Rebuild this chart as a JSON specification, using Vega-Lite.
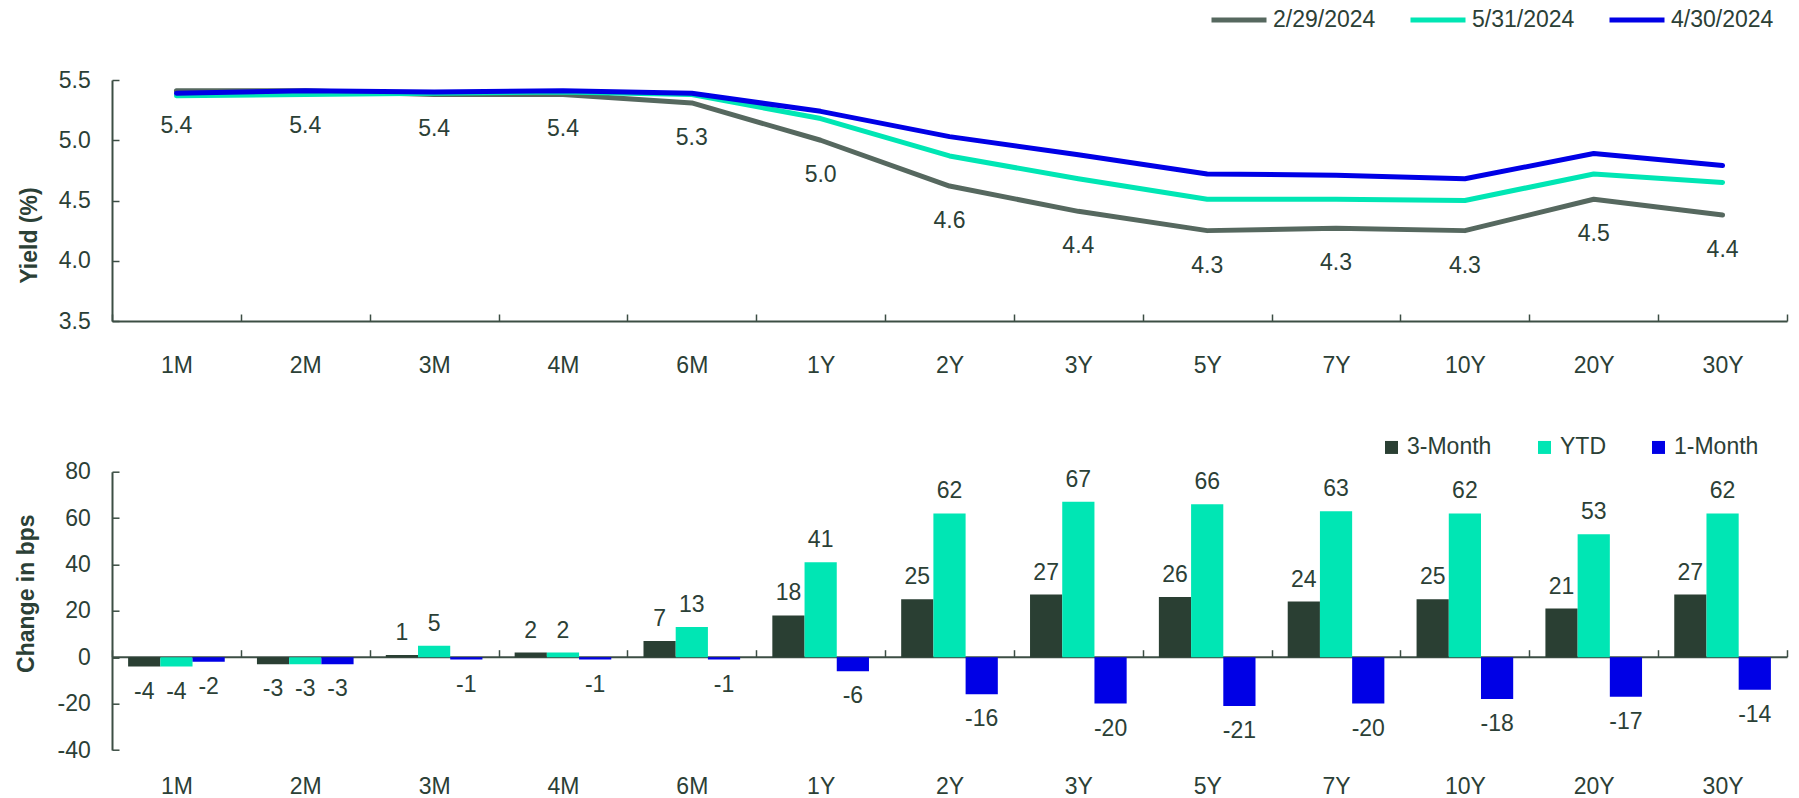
{
  "$schema": "https://vega.github.io/schema/vega-lite/v6.json",
  "padding": {"left": 14, "top": 8, "right": 5, "bottom": 5},
  "background": "white",
  "config": {
    "view": {"stroke": null},
    "font": "Liberation Sans",
    "axis": {"labelFont": "Liberation Sans", "labelFontSize": 23, "labelColor": "#2B4036", "titleFont": "Liberation Sans", "titleFontSize": 23, "titleFontWeight": "bold", "titleColor": "#2B4036", "domainColor": "#3C4E44", "domainWidth": 2, "tickColor": "#3C4E44", "tickWidth": 1.5, "grid": false},
    "legend": {"labelFont": "Liberation Sans", "labelFontSize": 23, "labelColor": "#2B4036", "padding": 0}
  },
  "datasets": {
    "yields": [
      {"tenor": "1M", "date": "2/29/2024", "yield": 5.41},
      {"tenor": "2M", "date": "2/29/2024", "yield": 5.41},
      {"tenor": "3M", "date": "2/29/2024", "yield": 5.38},
      {"tenor": "4M", "date": "2/29/2024", "yield": 5.38},
      {"tenor": "6M", "date": "2/29/2024", "yield": 5.31},
      {"tenor": "1Y", "date": "2/29/2024", "yield": 5.00},
      {"tenor": "2Y", "date": "2/29/2024", "yield": 4.62},
      {"tenor": "3Y", "date": "2/29/2024", "yield": 4.41},
      {"tenor": "5Y", "date": "2/29/2024", "yield": 4.25},
      {"tenor": "7Y", "date": "2/29/2024", "yield": 4.27},
      {"tenor": "10Y", "date": "2/29/2024", "yield": 4.25},
      {"tenor": "20Y", "date": "2/29/2024", "yield": 4.51},
      {"tenor": "30Y", "date": "2/29/2024", "yield": 4.38},
      {"tenor": "1M", "date": "5/31/2024", "yield": 5.37},
      {"tenor": "2M", "date": "5/31/2024", "yield": 5.38},
      {"tenor": "3M", "date": "5/31/2024", "yield": 5.39},
      {"tenor": "4M", "date": "5/31/2024", "yield": 5.40},
      {"tenor": "6M", "date": "5/31/2024", "yield": 5.38},
      {"tenor": "1Y", "date": "5/31/2024", "yield": 5.18},
      {"tenor": "2Y", "date": "5/31/2024", "yield": 4.87},
      {"tenor": "3Y", "date": "5/31/2024", "yield": 4.68},
      {"tenor": "5Y", "date": "5/31/2024", "yield": 4.51},
      {"tenor": "7Y", "date": "5/31/2024", "yield": 4.51},
      {"tenor": "10Y", "date": "5/31/2024", "yield": 4.50},
      {"tenor": "20Y", "date": "5/31/2024", "yield": 4.72},
      {"tenor": "30Y", "date": "5/31/2024", "yield": 4.65},
      {"tenor": "1M", "date": "4/30/2024", "yield": 5.39},
      {"tenor": "2M", "date": "4/30/2024", "yield": 5.41},
      {"tenor": "3M", "date": "4/30/2024", "yield": 5.40},
      {"tenor": "4M", "date": "4/30/2024", "yield": 5.41},
      {"tenor": "6M", "date": "4/30/2024", "yield": 5.39},
      {"tenor": "1Y", "date": "4/30/2024", "yield": 5.24},
      {"tenor": "2Y", "date": "4/30/2024", "yield": 5.03},
      {"tenor": "3Y", "date": "4/30/2024", "yield": 4.88},
      {"tenor": "5Y", "date": "4/30/2024", "yield": 4.72},
      {"tenor": "7Y", "date": "4/30/2024", "yield": 4.71},
      {"tenor": "10Y", "date": "4/30/2024", "yield": 4.68},
      {"tenor": "20Y", "date": "4/30/2024", "yield": 4.89},
      {"tenor": "30Y", "date": "4/30/2024", "yield": 4.79}
    ],
    "changes": [
      {"tenor": "1M", "period": "3-Month", "change": -4},
      {"tenor": "2M", "period": "3-Month", "change": -3},
      {"tenor": "3M", "period": "3-Month", "change": 1},
      {"tenor": "4M", "period": "3-Month", "change": 2},
      {"tenor": "6M", "period": "3-Month", "change": 7},
      {"tenor": "1Y", "period": "3-Month", "change": 18},
      {"tenor": "2Y", "period": "3-Month", "change": 25},
      {"tenor": "3Y", "period": "3-Month", "change": 27},
      {"tenor": "5Y", "period": "3-Month", "change": 26},
      {"tenor": "7Y", "period": "3-Month", "change": 24},
      {"tenor": "10Y", "period": "3-Month", "change": 25},
      {"tenor": "20Y", "period": "3-Month", "change": 21},
      {"tenor": "30Y", "period": "3-Month", "change": 27},
      {"tenor": "1M", "period": "YTD", "change": -4},
      {"tenor": "2M", "period": "YTD", "change": -3},
      {"tenor": "3M", "period": "YTD", "change": 5},
      {"tenor": "4M", "period": "YTD", "change": 2},
      {"tenor": "6M", "period": "YTD", "change": 13},
      {"tenor": "1Y", "period": "YTD", "change": 41},
      {"tenor": "2Y", "period": "YTD", "change": 62},
      {"tenor": "3Y", "period": "YTD", "change": 67},
      {"tenor": "5Y", "period": "YTD", "change": 66},
      {"tenor": "7Y", "period": "YTD", "change": 63},
      {"tenor": "10Y", "period": "YTD", "change": 62},
      {"tenor": "20Y", "period": "YTD", "change": 53},
      {"tenor": "30Y", "period": "YTD", "change": 62},
      {"tenor": "1M", "period": "1-Month", "change": -2},
      {"tenor": "2M", "period": "1-Month", "change": -3},
      {"tenor": "3M", "period": "1-Month", "change": -1},
      {"tenor": "4M", "period": "1-Month", "change": -1},
      {"tenor": "6M", "period": "1-Month", "change": -1},
      {"tenor": "1Y", "period": "1-Month", "change": -6},
      {"tenor": "2Y", "period": "1-Month", "change": -16},
      {"tenor": "3Y", "period": "1-Month", "change": -20},
      {"tenor": "5Y", "period": "1-Month", "change": -21},
      {"tenor": "7Y", "period": "1-Month", "change": -20},
      {"tenor": "10Y", "period": "1-Month", "change": -18},
      {"tenor": "20Y", "period": "1-Month", "change": -17},
      {"tenor": "30Y", "period": "1-Month", "change": -14}
    ]
  },
  "spacing": 150.7,
  "bounds": "flush",
  "resolve": {"scale": {"color": "independent", "x": "independent", "y": "independent"}, "legend": {"color": "independent"}},
  "vconcat": [
    {
      "width": 1675,
      "height": 241,
      "data": {"name": "yields"},
      "encoding": {
        "x": {"field": "tenor", "type": "nominal", "bandPosition": 0.5,
          "scale": {"type": "band", "domain": ["1M","2M","3M","4M","6M","1Y","2Y","3Y","5Y","7Y","10Y","20Y","30Y"], "paddingInner": 0, "paddingOuter": 0},
          "axis": {"title": null, "labelAngle": 0, "tickBand": "extent", "tickSize": -7, "labelBaseline": "middle", "labelPadding": 51}},
        "y": {"field": "yield", "type": "quantitative",
          "scale": {"domain": [3.5, 5.5], "nice": false, "zero": false},
          "axis": {"title": "Yield (%)", "values": [3.5, 4, 4.5, 5, 5.5], "format": ".1f", "tickSize": -7, "labelPadding": 28.7, "titleX": -83, "titleY": 155, "titleAngle": -90, "titleAlign": "center", "titleBaseline": "middle"}}
      },
      "layer": [
        {
          "mark": {"type": "line", "strokeJoin": "round", "strokeCap": "round"},
          "encoding": {
            "color": {"field": "date", "type": "nominal", "sort": null,
              "scale": {"domain": ["2/29/2024", "5/31/2024", "4/30/2024"], "range": ["#56685F", "#00E6B4", "#0000E6"]},
              "legend": {"orient": "none", "legendX": 1097, "legendY": -72, "direction": "horizontal", "title": null, "symbolType": "stroke", "symbolSize": 3025, "symbolStrokeWidth": 5, "labelOffset": 4, "columnPadding": 32, "clipHeight": 24}},
            "strokeWidth": {"field": "date", "type": "nominal",
              "scale": {"domain": ["2/29/2024", "5/31/2024", "4/30/2024"], "range": [5, 5, 4]}, "legend": null}
          }
        },
        {
          "transform": [{"filter": "datum.date === '2/29/2024'"}],
          "mark": {"type": "text", "dy": 35, "fontSize": 23, "color": "#2B4036", "font": "Liberation Sans", "baseline": "middle"},
          "encoding": {"text": {"field": "yield", "type": "quantitative", "format": ".1f"}}
        }
      ]
    },
    {
      "width": 1675,
      "height": 278.3,
      "data": {"name": "changes"},
      "encoding": {
        "x": {"field": "tenor", "type": "nominal",
          "scale": {"type": "band", "domain": ["1M","2M","3M","4M","6M","1Y","2Y","3Y","5Y","7Y","10Y","20Y","30Y"], "paddingInner": 0, "paddingOuter": 0},
          "axis": {"title": null, "labelAngle": 0, "tickBand": "extent", "tickSize": -7, "offset": -93.3, "labelBaseline": "middle", "labelPadding": 137}},
        "xOffset": {"field": "period", "type": "nominal", "sort": null,
          "scale": {"domain": ["3-Month", "YTD", "1-Month"], "paddingInner": 0, "paddingOuter": 0.5}},
        "y": {"field": "change", "type": "quantitative",
          "scale": {"domain": [-40, 80], "nice": false},
          "axis": {"title": "Change in bps", "values": [-40, -20, 0, 20, 40, 60, 80], "labelExpr": "'' + datum.value", "tickSize": -7, "labelPadding": 28.7, "titleX": -86, "titleY": 121.5, "titleAngle": -90, "titleAlign": "center", "titleBaseline": "middle"}}
      },
      "layer": [
        {
          "mark": {"type": "bar"},
          "encoding": {
            "color": {"field": "period", "type": "nominal", "sort": null,
              "scale": {"domain": ["3-Month", "YTD", "1-Month"], "range": ["#2A3F33", "#00E6B4", "#0000E6"]},
              "legend": {"orient": "none", "legendX": 1268, "legendY": -36, "direction": "horizontal", "title": null, "symbolType": "square", "symbolSize": 169, "symbolStrokeWidth": 0, "labelOffset": 4, "columnPadding": 41}}
          }
        },
        {
          "transform": [{"filter": "datum.change >= 0"}],
          "mark": {"type": "text", "dy": -22, "fontSize": 23, "color": "#2B4036", "font": "Liberation Sans", "baseline": "middle"},
          "encoding": {"text": {"field": "change", "type": "nominal"}}
        },
        {
          "transform": [{"filter": "datum.change < 0"}],
          "mark": {"type": "text", "dy": 25, "fontSize": 23, "color": "#2B4036", "font": "Liberation Sans", "baseline": "middle"},
          "encoding": {"text": {"field": "change", "type": "nominal"}}
        }
      ]
    }
  ]
}
